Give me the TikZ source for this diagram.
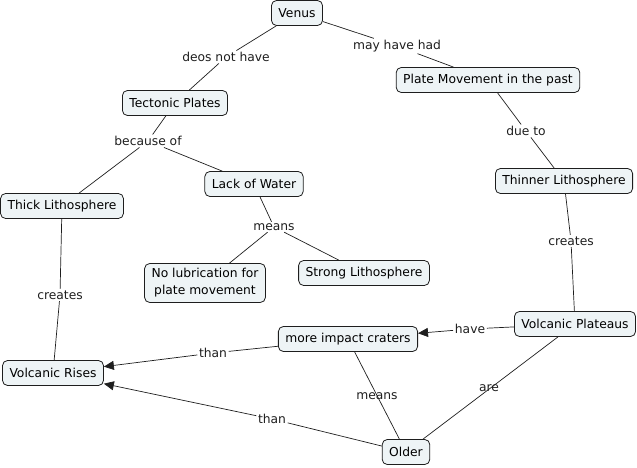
\documentclass[tikz,border=0pt]{standalone}
\usepackage{fontspec}
\setmainfont{DejaVu Sans}
\usetikzlibrary{arrows.meta}
\definecolor{cfill}{HTML}{EEF4F6}
\definecolor{cline}{HTML}{1E1E1E}
\begin{document}
\begin{tikzpicture}[x=1pt,y=-1pt,
  concept/.style={draw=cline, fill=cfill, rounded corners=5pt, line width=0.8pt,
    inner xsep=7pt, inner ysep=3pt, minimum height=25pt, align=center,
    font=\fontsize{12.3}{17}\selectfont},
  phrase/.style={inner sep=1.5pt, text=cline, font=\fontsize{12.3}{14}\selectfont},
  link/.style={draw=cline, line width=0.7pt},
  tip/.style={-{Triangle[length=10pt,width=9pt]}}]
\useasboundingbox (0,0) rectangle (637,468);
\node[concept] (venus) at (297,13){Venus};
\node[concept] (tect) at (175,103){Tectonic Plates};
\node[concept] (pmove) at (488,80){Plate Movement in the past};
\node[concept] (water) at (254,184){Lack of Water};
\node[concept] (thick) at (62,206){Thick Lithosphere};
\node[concept] (thin) at (564,181){Thinner Lithosphere};
\node[concept, inner ysep=5pt] (nolub) at (205,283){No lubrication for\\plate movement};
\node[concept] (strong) at (364,273){Strong Lithosphere};
\node[concept] (plat) at (575,324){Volcanic Plateaus};
\node[concept] (crat) at (348,339){more impact craters};
\node[concept] (rises) at (53,373){Volcanic Rises};
\node[concept] (older) at (406,452){Older};
\node[phrase] (p0) at (226,57){deos not have};
\node[phrase] (p1) at (397,46){may have had};
\node[phrase] (p2) at (148,141){because of};
\node[phrase] (p3) at (274,227){means};
\node[phrase] (p4) at (526,131){due to};
\node[phrase] (p5) at (571,241){creates};
\node[phrase] (p6) at (60,295){creates};
\node[phrase] (p7) at (470,329){have};
\node[phrase] (p8) at (213,353){than};
\node[phrase] (p9) at (272,419){than};
\node[phrase] (p10) at (377,396){means};
\node[phrase] (p11) at (489,388){are};
\draw[link](venus) -- (p0);
\draw[link](p0) -- (tect);
\draw[link](venus) -- (p1);
\draw[link](p1) -- (pmove);
\draw[link](tect) -- (p2);
\draw[link](p2) -- (thick);
\draw[link](p2) -- (water);
\draw[link](water) -- (p3);
\draw[link](p3) -- (nolub);
\draw[link](p3) -- (strong);
\draw[link](pmove) -- (p4);
\draw[link](p4) -- (thin);
\draw[link](thin) -- (p5);
\draw[link](p5) -- (plat);
\draw[link](thick) -- (p6);
\draw[link](p6) -- (rises);
\draw[link](plat) -- (p7);
\draw[link,tip](p7) -- (crat);
\draw[link](crat) -- (p8);
\draw[link,tip](p8) -- (rises);
\draw[link](older) -- (p9);
\draw[link,tip](p9) -- (rises);
\draw[link](crat) -- (older);
\draw[link](plat) -- (older);
\end{tikzpicture}
\end{document}
